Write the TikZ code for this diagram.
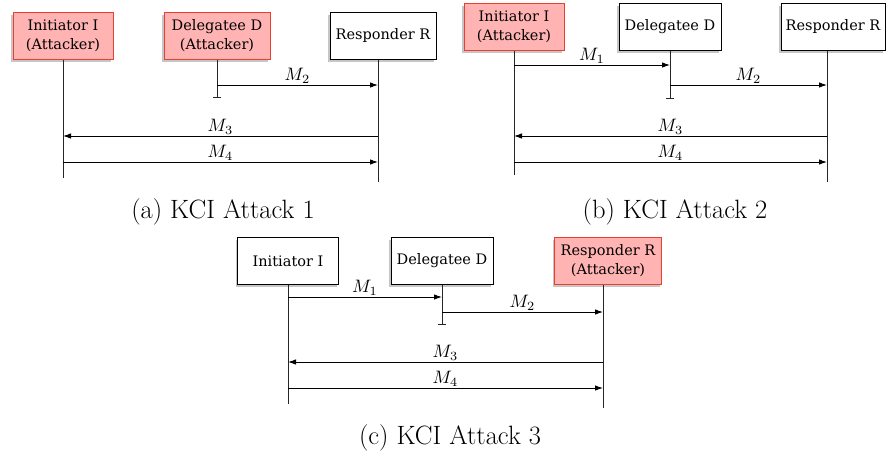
\documentclass[tikz,border=0pt]{standalone}
\usepackage{fontspec}
\newfontfamily\boxfont{DejaVu Serif}
\usetikzlibrary{%
  arrows.meta,%
  shadows,% wg. drop shadow
  positioning%
}
\definecolor{attfill}{HTML}{FFB3B3}
\definecolor{attline}{HTML}{E8402F}
\newcommand{\msglabel}[1]{\scalebox{1.8}{$#1$}}

\begin{document}
\begin{tikzpicture}
  [
  x=1pt, y=-1pt, line width=0.9pt, draw=black,
  party/.style={rectangle, draw=black, fill=white, line width=1pt, minimum height=47pt, minimum width=100pt, inner sep=2pt, align=center, font=\boxfont\fontsize{14.5}{19}\selectfont, drop shadow={shadow xshift=-2pt, shadow yshift=-2.5pt, opacity=.45}},
  attacker/.style={fill=attfill, draw=attline},
  life/.style={draw=black!85, line width=0.9pt},
  lifeend/.style={life, -{Bar[width=8pt]}},
  msg/.style={-{Latex[length=8pt,width=5.5pt]}, line width=0.9pt},
  mlabel/.style={above=0pt, midway, inner sep=1.5pt},
  subcap/.style={font=\fontsize{26.5}{30}\selectfont},
  ]
  \useasboundingbox (0,0) rectangle (886,456);

  % (a) KCI Attack 1
  \node[party,attacker] (aI) at (63,35.5) {Initiator I\\(Attacker)};
  \node[party,attacker,minimum width=106pt] (aD) at (217,35.5) {Delegatee D\\(Attacker)};
  \node[party,minimum width=106pt] (aR) at (383,35.5) {Responder R};
  \coordinate (aIe) at (63,178);
  \coordinate (aDe) at (217,98);
  \coordinate (aRe) at (378,182);
  \draw[life] (aI) -- (aIe);
  \draw[lifeend] (aD) -- (aDe);
  \draw[life] (aR.south -| aRe) -- (aRe);
  \draw[msg] (aDe |- 0,85) -- (aRe |- 0,85) node[mlabel] {\msglabel{M_2}};
  \draw[msg] (aRe |- 0,136) -- (aIe |- 0,136) node[mlabel] {\msglabel{M_3}};
  \draw[msg] (aIe |- 0,162) -- (aRe |- 0,162) node[mlabel] {\msglabel{M_4}};
  \node[subcap] (acap) at (223,212) {(a) KCI Attack 1};

  % (b) KCI Attack 2
  \node[party,attacker] (bI) at (514,26.5) {Initiator I\\(Attacker)};
  \node[party,minimum width=102pt] (bD) at (670,26.5) {Delegatee D};
  \node[party,minimum width=104pt] (bR) at (833,26.5) {Responder R};
  \coordinate (bIe) at (514,175);
  \coordinate (bDe) at (670,99);
  \coordinate (bRe) at (827,182);
  \draw[life] (bI) -- (bIe);
  \draw[lifeend] (bD) -- (bDe);
  \draw[life] (bR.south -| bRe) -- (bRe);
  \draw[msg] (bIe |- 0,65) -- (bDe |- 0,65) node[mlabel] {\msglabel{M_1}};
  \draw[msg] (bDe |- 0,85) -- (bRe |- 0,85) node[mlabel] {\msglabel{M_2}};
  \draw[msg] (bRe |- 0,136) -- (bIe |- 0,136) node[mlabel] {\msglabel{M_3}};
  \draw[msg] (bIe |- 0,162) -- (bRe |- 0,162) node[mlabel] {\msglabel{M_4}};
  \node[subcap] (bcap) at (675,212) {(b) KCI Attack 2};

  % (c) KCI Attack 3
  \node[party,minimum width=101pt] (cI) at (288,261) {Initiator I};
  \node[party,minimum width=102pt] (cD) at (442,261) {Delegatee D};
  \node[party,attacker,minimum width=107pt] (cR) at (608,261) {Responder R\\(Attacker)};
  \coordinate (cIe) at (288,404);
  \coordinate (cDe) at (442,325);
  \coordinate (cRe) at (603,408);
  \draw[life] (cI) -- (cIe);
  \draw[lifeend] (cD) -- (cDe);
  \draw[life] (cR.south -| cRe) -- (cRe);
  \draw[msg] (cIe |- 0,297) -- (cDe |- 0,297) node[mlabel] {\msglabel{M_1}};
  \draw[msg] (cDe |- 0,312) -- (cRe |- 0,312) node[mlabel] {\msglabel{M_2}};
  \draw[msg] (cRe |- 0,362) -- (cIe |- 0,362) node[mlabel] {\msglabel{M_3}};
  \draw[msg] (cIe |- 0,388) -- (cRe |- 0,388) node[mlabel] {\msglabel{M_4}};
  \node[subcap] (ccap) at (450,438) {(c) KCI Attack 3};

\end{tikzpicture}
\end{document}
